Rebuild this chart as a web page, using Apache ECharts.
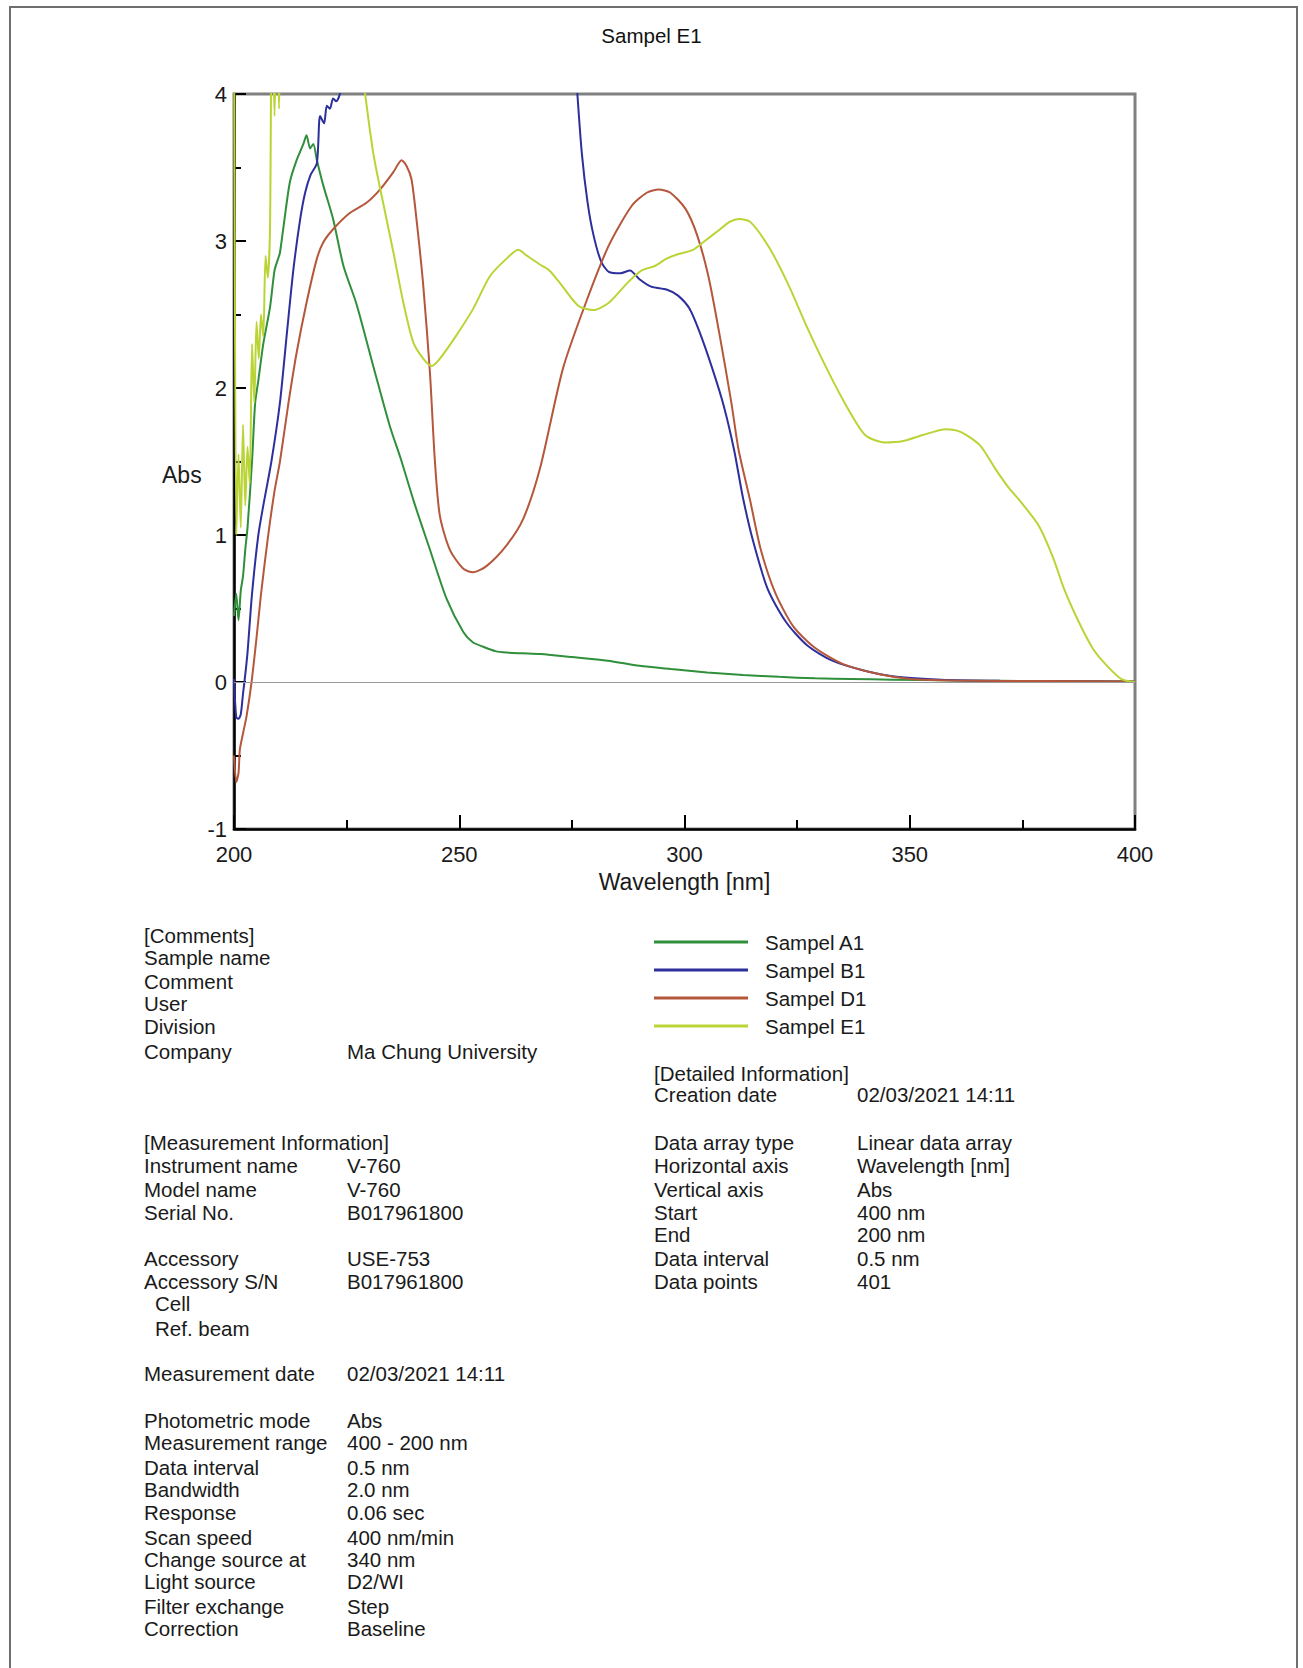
<!DOCTYPE html>
<html>
<head>
<meta charset="utf-8">
<title>Sampel E1</title>
<script src="https://cdn.jsdelivr.net/npm/echarts@6/dist/echarts.min.js"></script>
<style>
  html, body { margin: 0; padding: 0; background: #fff; }
  #page { position: relative; width: 1303px; height: 1668px; overflow: hidden; }
  #frame { position: absolute; left: 9px; top: 6px; width: 1285px; height: 1700px; border: 2px solid #6e6e6e; }
  #chart { position: absolute; left: 0; top: 0; width: 1303px; height: 1668px; }
  .t { position: absolute; font-family: "Liberation Sans", Arial, sans-serif; font-size: 20.5px; line-height: 22px; color: #1a1a1a; white-space: nowrap; }
</style>
</head>
<body>
<div id="page">
  <div id="frame"></div>
  <div id="chart"></div>

  <!-- left column -->
  <div class="t" style="left:144px;top:925px">[Comments]</div>
  <div class="t" style="left:144px;top:947px">Sample name</div>
  <div class="t" style="left:144px;top:971px">Comment</div>
  <div class="t" style="left:144px;top:993px">User</div>
  <div class="t" style="left:144px;top:1016px">Division</div>
  <div class="t" style="left:144px;top:1041px">Company</div>
  <div class="t" style="left:347px;top:1041px">Ma Chung University</div>

  <div class="t" style="left:144px;top:1132px">[Measurement Information]</div>
  <div class="t" style="left:144px;top:1155px">Instrument name</div>
  <div class="t" style="left:347px;top:1155px">V-760</div>
  <div class="t" style="left:144px;top:1179px">Model name</div>
  <div class="t" style="left:347px;top:1179px">V-760</div>
  <div class="t" style="left:144px;top:1202px">Serial No.</div>
  <div class="t" style="left:347px;top:1202px">B017961800</div>
  <div class="t" style="left:144px;top:1248px">Accessory</div>
  <div class="t" style="left:347px;top:1248px">USE-753</div>
  <div class="t" style="left:144px;top:1271px">Accessory S/N</div>
  <div class="t" style="left:347px;top:1271px">B017961800</div>
  <div class="t" style="left:155px;top:1293px">Cell</div>
  <div class="t" style="left:155px;top:1318px">Ref. beam</div>

  <div class="t" style="left:144px;top:1363px">Measurement date</div>
  <div class="t" style="left:347px;top:1363px">02/03/2021 14:11</div>

  <div class="t" style="left:144px;top:1410px">Photometric mode</div>
  <div class="t" style="left:347px;top:1410px">Abs</div>
  <div class="t" style="left:144px;top:1432px">Measurement range</div>
  <div class="t" style="left:347px;top:1432px">400 - 200 nm</div>
  <div class="t" style="left:144px;top:1457px">Data interval</div>
  <div class="t" style="left:347px;top:1457px">0.5 nm</div>
  <div class="t" style="left:144px;top:1479px">Bandwidth</div>
  <div class="t" style="left:347px;top:1479px">2.0 nm</div>
  <div class="t" style="left:144px;top:1502px">Response</div>
  <div class="t" style="left:347px;top:1502px">0.06 sec</div>
  <div class="t" style="left:144px;top:1527px">Scan speed</div>
  <div class="t" style="left:347px;top:1527px">400 nm/min</div>
  <div class="t" style="left:144px;top:1549px">Change source at</div>
  <div class="t" style="left:347px;top:1549px">340 nm</div>
  <div class="t" style="left:144px;top:1571px">Light source</div>
  <div class="t" style="left:347px;top:1571px">D2/WI</div>
  <div class="t" style="left:144px;top:1596px">Filter exchange</div>
  <div class="t" style="left:347px;top:1596px">Step</div>
  <div class="t" style="left:144px;top:1618px">Correction</div>
  <div class="t" style="left:347px;top:1618px">Baseline</div>

  <!-- right column -->
  <div class="t" style="left:654px;top:1063px">[Detailed Information]</div>
  <div class="t" style="left:654px;top:1084px">Creation date</div>
  <div class="t" style="left:857px;top:1084px">02/03/2021 14:11</div>
  <div class="t" style="left:654px;top:1132px">Data array type</div>
  <div class="t" style="left:857px;top:1132px">Linear data array</div>
  <div class="t" style="left:654px;top:1155px">Horizontal axis</div>
  <div class="t" style="left:857px;top:1155px">Wavelength [nm]</div>
  <div class="t" style="left:654px;top:1179px">Vertical axis</div>
  <div class="t" style="left:857px;top:1179px">Abs</div>
  <div class="t" style="left:654px;top:1202px">Start</div>
  <div class="t" style="left:857px;top:1202px">400 nm</div>
  <div class="t" style="left:654px;top:1224px">End</div>
  <div class="t" style="left:857px;top:1224px">200 nm</div>
  <div class="t" style="left:654px;top:1248px">Data interval</div>
  <div class="t" style="left:857px;top:1248px">0.5 nm</div>
  <div class="t" style="left:654px;top:1271px">Data points</div>
  <div class="t" style="left:857px;top:1271px">401</div>
</div>

<script>
// spectra (wavelength nm / absorbance), null = off scale
var a1Nm  = [200, 200.5, 201, 201.5, 202, 202.5, 203, 204, 204.7, 205.4, 206.5, 208, 209, 209.8, 210.2, 211, 212.4, 213.9, 215.4, 216.1, 216.9, 217.6, 218.4, 219.8, 222, 224.3, 227.2, 230.9, 234.6, 237, 240, 243.5, 247.2, 250.9, 253, 255.3, 258, 260.5, 264, 268, 275, 283, 290, 297, 305, 313, 321, 329, 337, 346, 360, 380, 400];
var a1Abs = [0.45, 0.6, 0.42, 0.62, 0.72, 0.9, 1.05, 1.5, 1.9, 2.05, 2.3, 2.55, 2.8, 2.88, 2.92, 3.1, 3.4, 3.55, 3.66, 3.72, 3.63, 3.66, 3.55, 3.38, 3.15, 2.83, 2.57, 2.15, 1.74, 1.52, 1.22, 0.9, 0.565, 0.34, 0.27, 0.24, 0.21, 0.2, 0.195, 0.19, 0.17, 0.145, 0.11, 0.088, 0.065, 0.048, 0.035, 0.025, 0.02, 0.016, 0.01, 0.006, 0.004];

var b1Nm  = [200, 200.5, 201, 201.5, 202, 202.5, 203, 204, 205.4, 206.5, 208.3, 210.2, 211.7, 213.2, 214.7, 215.8, 217, 218.4, 219.1, 220, 220.6, 221.3, 222, 222.7, 223.5, 224.5, 225, 275.5, 276, 277.2, 278.5, 279.8, 281.5, 283.2, 285.8, 287.9, 290, 292.6, 296, 298.5, 301.1, 303.6, 306.2, 308.7, 311, 313, 315.3, 318.5, 322.5, 327.2, 332.8, 340, 347, 357, 370, 385, 400];
var b1Abs = [0.02, -0.24, -0.25, -0.22, -0.08, 0.05, 0.2, 0.6, 1.0, 1.2, 1.5, 1.9, 2.36, 2.81, 3.15, 3.33, 3.45, 3.53, 3.85, 3.8, 3.92, 3.9, 3.97, 3.95, 4.0, 4.15, null, null, 4.1, 3.6, 3.26, 3.04, 2.86, 2.79, 2.78, 2.8, 2.74, 2.69, 2.67, 2.63, 2.54, 2.36, 2.13, 1.88, 1.58, 1.25, 0.95, 0.63, 0.41, 0.25, 0.145, 0.077, 0.036, 0.016, 0.008, 0.004, 0.002];

var d1Nm  = [200, 200.5, 201, 201.3, 202, 202.8, 203.9, 205, 206, 207.6, 209, 210.2, 212.1, 213.9, 216.1, 218.4, 219.8, 222, 225.7, 229.4, 232.4, 235.4, 237.2, 238.3, 239.4, 240.5, 242, 243.5, 244.6, 245.7, 247.9, 250.9, 253.1, 256.1, 260.5, 264.2, 267.9, 273, 278.1, 283.2, 288.3, 291.7, 294.3, 296.8, 300.2, 302.8, 305.3, 307.8, 310.4, 312, 314.5, 316.9, 320.1, 324.1, 328.8, 335.2, 343.1, 350.2, 360, 380, 400];
var d1Abs = [-0.5, -0.68, -0.62, -0.46, -0.35, -0.23, 0.0, 0.3, 0.6, 1.0, 1.3, 1.5, 1.9, 2.24, 2.58, 2.88, 2.99, 3.08, 3.19, 3.26, 3.35, 3.47, 3.55, 3.51, 3.42, 3.15, 2.7, 2.1, 1.5, 1.13, 0.9, 0.77, 0.746, 0.79, 0.93, 1.11, 1.45, 2.13, 2.58, 2.97, 3.24, 3.33, 3.35, 3.33, 3.22, 3.04, 2.76, 2.36, 1.9, 1.58, 1.245, 0.905, 0.61, 0.38, 0.236, 0.122, 0.054, 0.02, 0.01, 0.006, 0.004];

var e1Nm  = [200, 200.5, 201, 201.5, 202, 202.5, 203, 203.5, 204, 204.5, 205, 205.5, 206, 206.5, 207, 207.5, 208, 208.4, 209, 209.5, 210, 210.5, 211, 228, 228.7, 230.9, 233.1, 235.4, 237.6, 239.8, 242, 243.9, 245.7, 249.4, 253.1, 256.8, 260.5, 263.1, 265, 267.9, 270, 272.2, 276.4, 279.8, 283.2, 287.5, 290.5, 293.4, 296, 298.5, 301.9, 304.5, 307.9, 310, 312.1, 314.6, 318.9, 323.1, 327.4, 331.6, 335.9, 340.1, 344.4, 348.6, 352.9, 358, 361.4, 365.6, 369, 372, 374.8, 378.7, 381.9, 384.3, 387.5, 390.7, 393.8, 397, 400];
var e1Abs = [4.6, 1.0, 1.55, 1.05, 1.75, 1.2, 1.6, 1.35, 2.3, 1.9, 2.45, 2.2, 2.5, 2.35, 2.9, 2.75, 3.1, 4.6, 3.85, 4.6, 3.9, 4.6, null, null, 4.1, 3.6, 3.26, 2.92, 2.58, 2.31, 2.2, 2.15, 2.2, 2.36, 2.54, 2.76, 2.88, 2.94, 2.9, 2.84, 2.8, 2.72, 2.56, 2.53, 2.58, 2.72, 2.8, 2.83, 2.88, 2.91, 2.94, 3.0, 3.08, 3.13, 3.15, 3.13, 2.95, 2.7, 2.4, 2.13, 1.88, 1.68, 1.63, 1.64, 1.68, 1.72, 1.7, 1.61, 1.45, 1.32, 1.22, 1.06, 0.84, 0.63, 0.41, 0.225, 0.11, 0.02, 0.0];

var sampleNames = ['Sampel A1', 'Sampel B1', 'Sampel D1', 'Sampel E1'];
var lineColors = ['#2f8f3a', '#2c2f9c', '#b5573a', '#b9d535'];

function pairs(xs, ys) {
  var out = [];
  for (var i = 0; i < xs.length; i++) {
    out.push([xs[i], ys[i] === null ? '-' : ys[i]]);
  }
  return out;
}

var chart = echarts.init(document.getElementById('chart'), null, { renderer: 'svg' });
var font = '"Liberation Sans", Arial, sans-serif';
var spectra = [pairs(a1Nm, a1Abs), pairs(b1Nm, b1Abs), pairs(d1Nm, d1Abs), pairs(e1Nm, e1Abs)];

var series = spectra.map(function (d, i) {
  var s = {
    name: sampleNames[i],
    type: 'line',
    data: d,
    showSymbol: false,
    smooth: 0.25,
    clip: true,
    connectNulls: false,
    lineStyle: { width: 2, color: lineColors[i] },
    itemStyle: { color: lineColors[i] },
    emphasis: { disabled: true }
  };
  if (i === 0) {
    // the zero line
    s.markLine = {
      silent: true,
      symbol: 'none',
      label: { show: false },
      lineStyle: { color: '#9a9a9a', width: 1, type: 'solid' },
      data: [{ yAxis: 0 }]
    };
  }
  return s;
});

var option = {
  animation: false,
  title: {
    text: 'Sampel E1',
    left: 'center',
    top: 20,
    textStyle: { fontFamily: font, fontSize: 20.5, fontWeight: 'normal', color: '#111' }
  },
  legend: {
    orient: 'vertical',
    left: 649,
    top: 926,
    itemWidth: 94,
    itemHeight: 3,
    itemGap: 6,
    icon: 'rect',
    data: sampleNames,
    textStyle: { fontFamily: font, fontSize: 20.5, color: '#1a1a1a', lineHeight: 22, padding: [0, 0, 0, 12] }
  },
  grid: {
    left: 234,
    right: 168,
    top: 94,
    bottom: 839,
    show: true,
    borderColor: '#808080',
    borderWidth: 3
  },
  graphic: [{
    type: 'text',
    left: 162,
    top: 463,
    style: { text: 'Abs', font: '23px ' + font, fill: '#1a1a1a' }
  }],
  xAxis: {
    type: 'value',
    min: 200,
    max: 400,
    interval: 50,
    name: 'Wavelength [nm]',
    nameLocation: 'middle',
    nameGap: 41,
    nameTextStyle: { fontFamily: font, fontSize: 23, color: '#1a1a1a' },
    axisLine: { onZero: false, lineStyle: { color: '#000', width: 2.5 } },
    axisTick: { inside: true, length: 14, lineStyle: { color: '#000', width: 2 } },
    minorTick: { show: true, splitNumber: 2, length: 9, lineStyle: { color: '#000', width: 2 } },
    axisLabel: { fontFamily: font, fontSize: 22, color: '#1a1a1a', margin: 14 },
    splitLine: { show: false }
  },
  yAxis: {
    type: 'value',
    min: -1,
    max: 4,
    interval: 1,
    axisLine: { onZero: false, lineStyle: { color: '#000', width: 2.5 } },
    axisTick: { inside: true, length: 12, lineStyle: { color: '#000', width: 2 } },
    minorTick: { show: true, splitNumber: 2, length: 7, lineStyle: { color: '#000', width: 2 } },
    axisLabel: { fontFamily: font, fontSize: 22, color: '#1a1a1a', margin: 7 },
    splitLine: { show: false }
  },
  series: series
};

chart.setOption(option);
</script>
</body>
</html>
